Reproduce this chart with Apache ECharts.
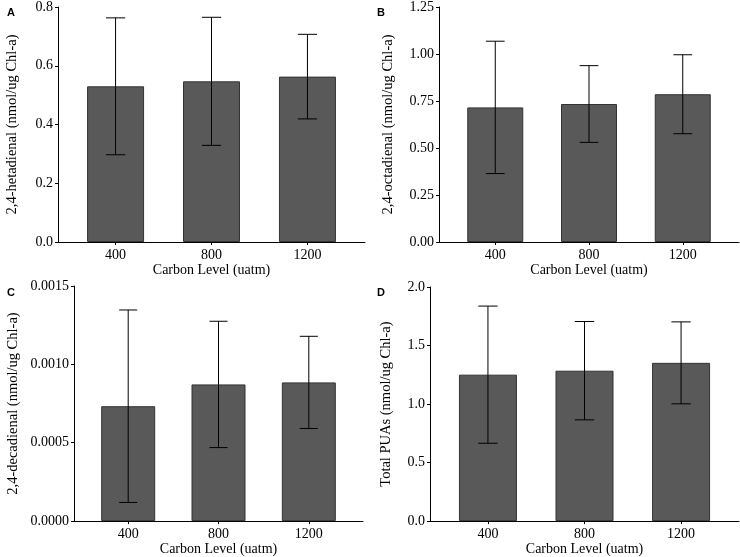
<!DOCTYPE html>
<html>
<head>
<meta charset="utf-8">
<script src="https://cdn.jsdelivr.net/npm/echarts@6/dist/echarts.min.js"></script>
<style>
  html, body { margin: 0; padding: 0; background: #fff; }
  #chart { width: 740px; height: 557px; }
</style>
</head>
<body>
<div id="chart"></div>
<script>
// carbon levels on the x axis (positions 1,2,3)
const carbonLevels = ['400', '800', '1200'];
const positions = [1, 2, 3];

// panel A: 2,4-heptadienal
const hetadienalMean = [0.530, 0.547, 0.563];
const hetadienalErr = [0.233, 0.218, 0.144];
// panel B: 2,4-octadienal
const octadienalMean = [0.716, 0.734, 0.786];
const octadienalErr = [0.352, 0.204, 0.210];
// panel C: 2,4-decadienal
const decadienalMean = [0.000733, 0.000872, 0.000885];
const decadienalErr = [0.000614, 0.000403, 0.000294];
// panel D: total PUAs
const totalMean = [1.251, 1.285, 1.352];
const totalErr = [0.586, 0.420, 0.350];

const serif = '"Liberation Serif", "DejaVu Serif", serif';

const panels = [
  { letter: 'A', name: '2,4-hetadienal (nmol/ug Chl-a)', mean: hetadienalMean, err: hetadienalErr,
    max: 0.8, interval: 0.2, dec: 1,
    grid: { left: 58, top: 5, width: 307, height: 237 }, barWidth: 57, nameGap: 38 },
  { letter: 'B', name: '2,4-octadienal (nmol/ug Chl-a)', mean: octadienalMean, err: octadienalErr,
    max: 1.25, interval: 0.25, dec: 2,
    grid: { left: 439, top: 5, width: 300, height: 237 }, barWidth: 56, nameGap: 43 },
  { letter: 'C', name: '2,4-decadienal (nmol/ug Chl-a)', mean: decadienalMean, err: decadienalErr,
    max: 0.0015, interval: 0.0005, dec: 4,
    grid: { left: 74, top: 286, width: 289, height: 237 }, barWidth: 54, nameGap: 53 },
  { letter: 'D', name: 'Total PUAs (nmol/ug Chl-a)', mean: totalMean, err: totalErr,
    max: 2.0, interval: 0.5, dec: 1,
    grid: { left: 430, top: 287, width: 309, height: 236 }, barWidth: 58, nameGap: 36 }
];

const option = {
  animation: false,
  backgroundColor: '#fff',
  title: [], grid: [], xAxis: [], yAxis: [], series: []
};

panels.forEach(function (p, i) {
  option.title.push({
    text: p.letter,
    left: i % 2 === 0 ? 2 : 372,
    top: i < 2 ? 2 : 282,
    textStyle: { fontFamily: '"Liberation Sans", Arial, sans-serif', fontWeight: 'bold', fontSize: 11, color: '#000' }
  });
  option.grid.push(p.grid);
  option.xAxis.push({
    type: 'value', gridIndex: i, min: 0.4, max: 3.6,
    name: 'Carbon Level (uatm)', nameLocation: 'middle', nameGap: 17,
    nameTextStyle: { fontFamily: serif, fontSize: 14, color: '#000' },
    axisLine: { lineStyle: { color: '#000', width: 1 } },
    axisTick: { customValues: positions, length: 3, lineStyle: { color: '#000' } },
    axisLabel: {
      customValues: positions, fontFamily: serif, fontSize: 14, color: '#000', margin: 6,
      formatter: function (v) { return carbonLevels[Math.round(v) - 1]; }
    },
    splitLine: { show: false }
  });
  option.yAxis.push({
    type: 'value', gridIndex: i, min: 0, max: p.max, interval: p.interval,
    name: p.name, nameLocation: 'middle', nameGap: p.nameGap, nameRotate: 90,
    nameTextStyle: { fontFamily: serif, fontSize: 14.5, color: '#000' },
    axisLine: { show: true, lineStyle: { color: '#000', width: 1 } },
    axisTick: { show: true, length: 3, lineStyle: { color: '#000' } },
    axisLabel: {
      fontFamily: serif, fontSize: 14, color: '#000', margin: 5,
      formatter: function (v) { return v.toFixed(p.dec); }
    },
    splitLine: { show: false }
  });
  option.series.push({
    type: 'bar', xAxisIndex: i, yAxisIndex: i,
    barWidth: p.barWidth,
    itemStyle: { color: '#595959', borderColor: '#333', borderWidth: 1 },
    data: positions.map(function (x, k) { return [x, p.mean[k]]; })
  });
  option.series.push({
    type: 'custom', xAxisIndex: i, yAxisIndex: i, z: 5,
    data: positions.map(function (x, k) { return [x, p.mean[k] - p.err[k], p.mean[k] + p.err[k]]; }),
    renderItem: function (params, api) {
      const lo = api.coord([api.value(0), api.value(1)]);
      const hi = api.coord([api.value(0), api.value(2)]);
      const half = api.size([0.1, 0])[0];
      const style = { stroke: '#000', lineWidth: 1 };
      return {
        type: 'group',
        children: [
          { type: 'line', shape: { x1: lo[0], y1: lo[1], x2: hi[0], y2: hi[1] }, style: style },
          { type: 'line', shape: { x1: hi[0] - half, y1: hi[1], x2: hi[0] + half, y2: hi[1] }, style: style },
          { type: 'line', shape: { x1: lo[0] - half, y1: lo[1], x2: lo[0] + half, y2: lo[1] }, style: style }
        ]
      };
    }
  });
});

const chart = echarts.init(document.getElementById('chart'));
chart.setOption(option);
</script>
</body>
</html>
